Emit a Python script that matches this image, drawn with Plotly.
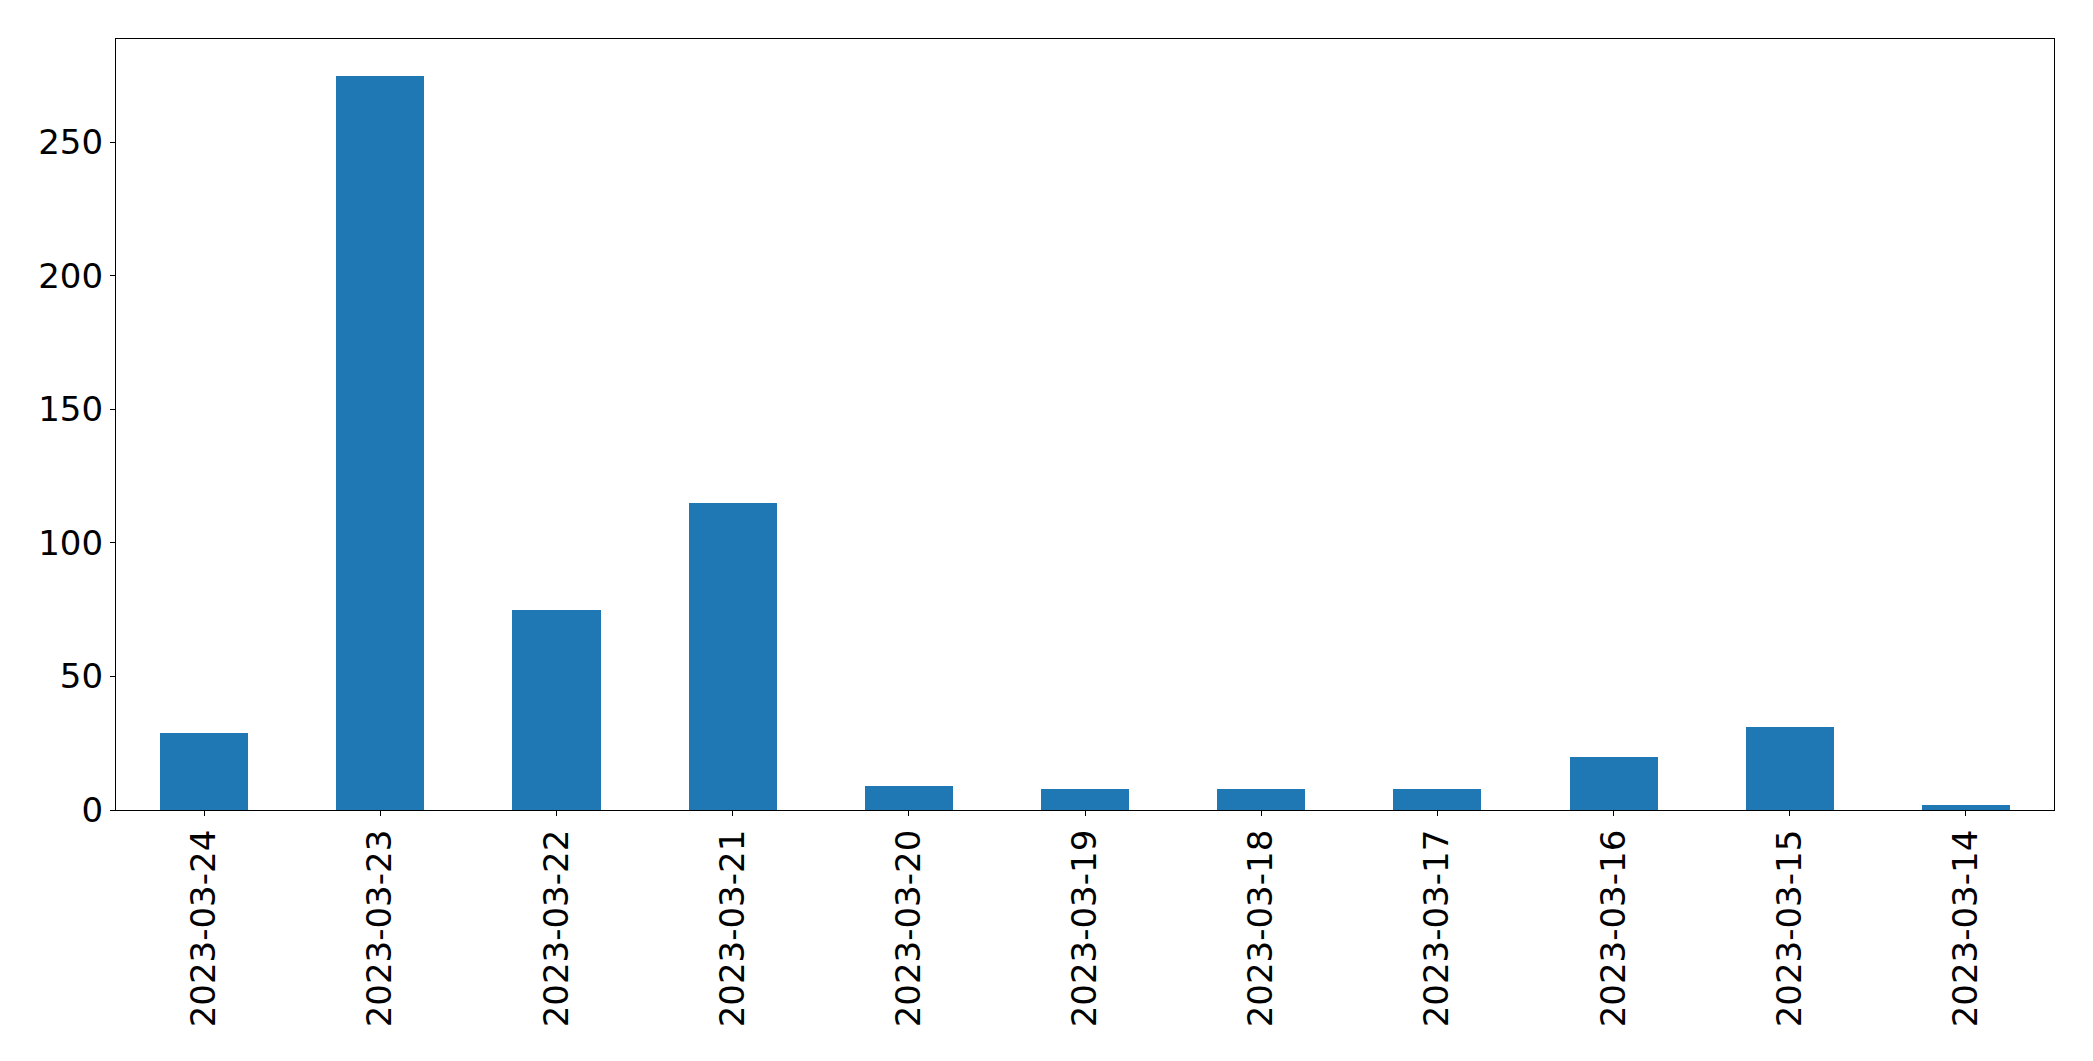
import plotly.graph_objects as go

dates = ["2023-03-24", "2023-03-23", "2023-03-22", "2023-03-21", "2023-03-20",
         "2023-03-19", "2023-03-18", "2023-03-17", "2023-03-16", "2023-03-15", "2023-03-14"]
counts = [29, 275, 75, 115, 9, 8, 8, 8, 20, 31, 2]
y_ticks = [0, 50, 100, 150, 200, 250]

# the page body has an 8px default margin, so the figure is drawn 8px smaller
W, H = 2085, 1053
fig = go.Figure()
fig.add_trace(go.Bar(
    x=list(range(len(dates))), y=counts, width=0.5,
    marker=dict(color="#1f77b4", line=dict(width=0)),
))

fig.update_layout(
    width=W, height=H,
    margin=dict(l=108, r=39, t=31, b=251, pad=0),
    paper_bgcolor="white", plot_bgcolor="white",
    font=dict(family="DejaVu Sans", size=34, color="black"),
    showlegend=False,
    bargap=0,
)
fig.update_xaxes(
    range=[-0.5, len(dates) - 0.5],
    tickmode="array", tickvals=list(range(len(dates))), ticktext=dates,
    tickangle=-90,
    showline=True, linecolor="black", linewidth=1.3, mirror=True,
    ticks="outside", ticklen=5, tickwidth=1.3, tickcolor="black",
    showgrid=False, zeroline=False,
    tickfont=dict(size=34),
)
fig.update_yaxes(
    range=[0, max(counts) * 1.05],
    tickmode="array", tickvals=y_ticks,
    showline=True, linecolor="black", linewidth=1.3, mirror=True,
    ticks="outside", ticklen=5, tickwidth=1.3, tickcolor="black",
    showgrid=False, zeroline=False,
    tickfont=dict(size=34),
)

fig.write_html("out.html")
